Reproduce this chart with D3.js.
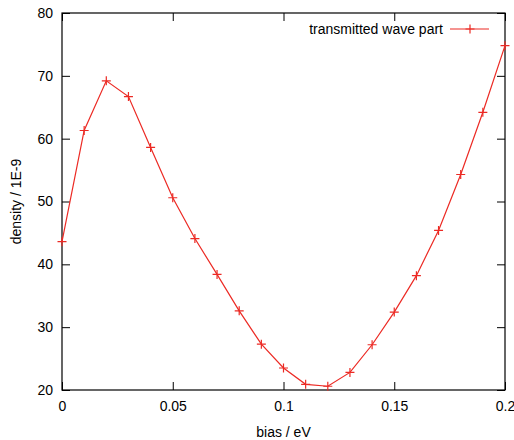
<!DOCTYPE html>
<html>
<head>
<meta charset="utf-8">
<script src="https://cdn.jsdelivr.net/npm/d3@7"></script>
<style>
  body { margin: 0; background: #fff; }
  text { font-family: "Liberation Sans", Arial, sans-serif; font-size: 14px; fill: #000; }
</style>
</head>
<body>
<div id="chart"></div>
<script>
// bias in eV and density in units of 1E-9
const bias = [0, 0.01, 0.02, 0.03, 0.04, 0.05, 0.06, 0.07, 0.08, 0.09, 0.1,
  0.11, 0.12, 0.13, 0.14, 0.15, 0.16, 0.17, 0.18, 0.19, 0.2];
const density = [43.6, 61.3, 69.2, 66.7, 58.6, 50.6, 44.1, 38.4, 32.6, 27.3, 23.5,
  20.9, 20.6, 22.8, 27.2, 32.4, 38.2, 45.4, 54.3, 64.2, 74.8];
const xTicks = [0, 0.05, 0.1, 0.15, 0.2];
const xTickLabels = ['0', '0.05', '0.1', '0.15', '0.2'];
const yTicks = [20, 30, 40, 50, 60, 70, 80];
const seriesName = 'transmitted wave part';

(function () {
  const width = 514,
    height = 440,
    margin = { top: 13, right: 9, bottom: 50, left: 62 },
    chartWidth = width - margin.left - margin.right,
    chartHeight = height - margin.top - margin.bottom;

  const red = '#ec2a24';

  const points = bias.map((b, i) => ({ b, d: density[i] }));

  const x = d3.scaleLinear().domain([0, 0.2]).range([0, chartWidth]);
  const y = d3.scaleLinear().domain([20, 80]).range([chartHeight, 0]);

  const svg = d3
    .select('#chart')
    .append('svg')
    .attr('width', width)
    .attr('height', height);

  const chart = svg
    .append('g')
    .attr('transform', `translate(${margin.left}, ${margin.top})`);

  // ticks pointing inwards, mirrored on top and right
  const tickFmt = d => xTickLabels[xTicks.indexOf(d)];

  chart
    .append('g')
    .attr('transform', `translate(0, ${chartHeight})`)
    .call(d3.axisBottom(x).tickValues(xTicks).tickFormat(tickFmt)
      .tickSizeInner(-8).tickSizeOuter(0).tickPadding(11));

  chart
    .append('g')
    .call(d3.axisTop(x).tickValues(xTicks).tickFormat('')
      .tickSizeInner(-8).tickSizeOuter(0));

  chart
    .append('g')
    .call(d3.axisLeft(y).tickValues(yTicks).tickFormat(d3.format('d'))
      .tickSizeInner(-8).tickSizeOuter(0).tickPadding(9));

  chart
    .append('g')
    .attr('transform', `translate(${chartWidth}, 0)`)
    .call(d3.axisRight(y).tickValues(yTicks).tickFormat('')
      .tickSizeInner(-8).tickSizeOuter(0));

  chart.selectAll('.domain').remove();
  chart.selectAll('.tick line').attr('stroke', '#000');
  chart.selectAll('.tick text')
    .style('font-size', '14px')
    .style('font-family', '"Liberation Sans", Arial, sans-serif');

  // frame
  chart
    .append('rect')
    .attr('width', chartWidth)
    .attr('height', chartHeight)
    .attr('fill', 'none')
    .attr('stroke', '#000')
    .attr('stroke-width', 1.2);

  // data line
  const line = d3.line().x(d => x(d.b)).y(d => y(d.d));

  chart
    .append('path')
    .datum(points)
    .attr('fill', 'none')
    .attr('stroke', red)
    .attr('stroke-width', 1.2)
    .attr('d', line);

  const cross = s => `M${-s},0H${s}M0,${-s}V${s}`;

  chart
    .selectAll('.pt')
    .data(points)
    .enter()
    .append('path')
    .attr('class', 'pt')
    .attr('transform', d => `translate(${x(d.b)}, ${y(d.d)})`)
    .attr('d', cross(4.5))
    .attr('stroke', red)
    .attr('stroke-width', 1.2)
    .attr('fill', 'none');

  // legend
  const legend = chart.append('g').attr('transform', 'translate(0, 16)');
  legend
    .append('text')
    .attr('x', 381)
    .attr('dy', '0.35em')
    .attr('text-anchor', 'end')
    .text(seriesName);
  legend
    .append('line')
    .attr('x1', 388)
    .attr('x2', 427)
    .attr('stroke', red)
    .attr('stroke-width', 1.2);
  legend
    .append('path')
    .attr('transform', 'translate(408, 0)')
    .attr('d', cross(4.5))
    .attr('stroke', red)
    .attr('stroke-width', 1.2);

  // axis titles
  svg
    .append('text')
    .attr('x', margin.left + chartWidth / 2)
    .attr('y', 437)
    .attr('text-anchor', 'middle')
    .text('bias / eV');

  svg
    .append('text')
    .attr('transform', `translate(21, ${margin.top + chartHeight / 2}) rotate(-90)`)
    .attr('text-anchor', 'middle')
    .text('density / 1E-9');
})();
</script>
</body>
</html>
